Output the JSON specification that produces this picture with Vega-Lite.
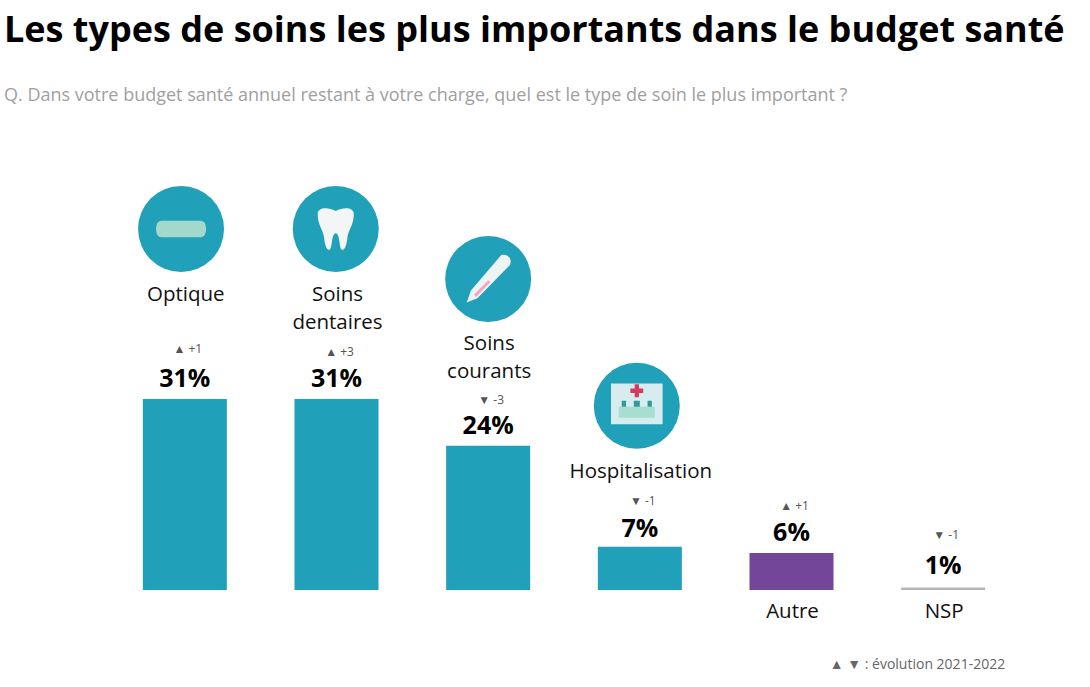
{
"$schema":"https://vega.github.io/schema/vega-lite/v6.json",
"width":1090,"height":567,
"autosize":{"type":"none"},
"padding":{"left":0,"top":120,"right":0,"bottom":0},
"background":"white",
"config":{"view":{"stroke":null},"font":"Open Sans"},
"title":{"text":"Les types de soins les plus importants dans le budget santé","subtitle":"Q. Dans votre budget santé annuel restant à votre charge, quel est le type de soin le plus important ?","anchor":"start","frame":"group","dx":4,"offset":14,"font":"Open Sans","fontSize":36,"fontWeight":"bold","color":"#000000","subtitleFont":"Open Sans","subtitleFontSize":18,"subtitleColor":"#a0a0a0","subtitlePadding":37},
"datasets":{
"glyphes":[
{"colonne":-0.025,"niveau":58.6,"partie":"disque"},
{"colonne":0.995,"niveau":58.6,"partie":"disque"},
{"colonne":2,"niveau":50.5,"partie":"disque"},
{"colonne":2.98,"niveau":29.9,"partie":"disque"},
{"colonne":-0.025,"niveau":58.6,"partie":"lunettes"},
{"colonne":0.995,"niveau":58.6,"partie":"dent"},
{"colonne":2,"niveau":50.5,"partie":"thermometre"},
{"colonne":2,"niveau":50.5,"partie":"repere"},
{"colonne":2.98,"niveau":29.9,"partie":"batiment"},
{"colonne":2.98,"niveau":29.9,"partie":"base"},
{"colonne":2.98,"niveau":29.9,"partie":"croix"},
{"colonne":2.98,"niveau":29.9,"partie":"fenetres"}
]},
"data":{"values":[
{"categorie":"Optique","valeur":31,"barre":31,"libelle":"Optique","evolution":"▲ +1","pct":"31%","niveau_libelle":46.9,"niveau_pct":33,"niveau_evol":39.1},
{"categorie":"Soins dentaires","valeur":31,"barre":31,"libelle":"Soins\ndentaires","evolution":"▲ +3","pct":"31%","niveau_libelle":46.9,"niveau_pct":33,"niveau_evol":38.6},
{"categorie":"Soins courants","valeur":24,"barre":23.4,"libelle":"Soins\ncourants","evolution":"▼ -3","pct":"24%","niveau_libelle":39,"niveau_pct":25.3,"niveau_evol":30.8},
{"categorie":"Hospitalisation","valeur":7,"barre":7,"libelle":"Hospitalisation","evolution":"▼ -1","pct":"7%","niveau_libelle":18.2,"niveau_pct":8.6,"niveau_evol":14.4},
{"categorie":"Autre","valeur":6,"barre":6,"libelle":"Autre","evolution":"▲ +1","pct":"6%","niveau_libelle":-4.5,"niveau_pct":8,"niveau_evol":13.6},
{"categorie":"NSP","valeur":1,"barre":0.4,"libelle":"NSP","evolution":"▼ -1","pct":"1%","niveau_libelle":-4.5,"niveau_pct":2.6,"niveau_evol":8.9}
]},
"encoding":{
"x":{"field":"categorie","type":"nominal","axis":null,"sort":null,"scale":{"domain":["Optique","Soins dentaires","Soins courants","Hospitalisation","Autre","NSP"],"range":[109,1019],"paddingInner":0.446,"paddingOuter":0.223}}
},
"layer":[
{"mark":{"type":"bar"},
 "encoding":{
 "y":{"field":"barre","type":"quantitative","axis":null,"scale":{"domain":[-15.75,76.3],"nice":false,"zero":false}},
 "color":{"field":"categorie","type":"nominal","legend":null,"scale":{"domain":["Optique","Soins dentaires","Soins courants","Hospitalisation","Autre","NSP"],"range":["#21a1b9","#21a1b9","#21a1b9","#21a1b9","#74469a","#b5b5b5"]}}}},
{"data":{"name":"glyphes"},
 "mark":{"type":"point","filled":true,"size":7396,"opacity":1,"strokeWidth":0},
 "encoding":{
 "x":{"field":"colonne","type":"quantitative","axis":null,"scale":{"domain":[-0.5,5.5],"range":[109,1019],"nice":false,"zero":false}},
 "y":{"field":"niveau","type":"quantitative"},
 "shape":{"field":"partie","type":"nominal","legend":null,"sort":null,"scale":{"domain":["disque","lunettes","dent","thermometre","repere","batiment","base","croix","fenetres"],"range":["circle",
 "M-0.45,-0.19 L0.45,-0.19 C0.55,-0.19 0.58,-0.1 0.58,0 C0.58,0.1 0.55,0.19 0.45,0.19 L-0.45,0.19 C-0.55,0.19 -0.58,0.1 -0.58,0 C-0.58,-0.1 -0.55,-0.19 -0.45,-0.19 Z",
 "M-0.42,-0.35 C-0.42,-0.5 -0.2,-0.52 0,-0.42 C0.2,-0.52 0.42,-0.5 0.42,-0.35 C0.42,-0.1 0.3,0 0.27,0.2 C0.25,0.4 0.2,0.5 0.14,0.48 C0.08,0.45 0.1,0.1 0,0.1 C-0.1,0.1 -0.08,0.45 -0.14,0.48 C-0.2,0.5 -0.25,0.4 -0.27,0.2 C-0.3,0 -0.42,-0.1 -0.42,-0.35 Z",
 "M0.3,-0.55 C0.45,-0.6 0.58,-0.45 0.5,-0.32 L-0.25,0.45 L-0.5,0.55 L-0.4,0.27 Z",
 "M-0.33,0.37 L0,0.03 L0.05,0.08 L-0.28,0.42 Z",
 "M-0.6,-0.52 L0.6,-0.52 L0.6,0.43 L-0.6,0.43 Z",
 "M-0.42,0.02 L0.42,0.02 L0.42,0.28 L-0.42,0.28 Z",
 "M-0.05,-0.5 L0.05,-0.5 L0.05,-0.4 L0.15,-0.4 L0.15,-0.3 L0.05,-0.3 L0.05,-0.2 L-0.05,-0.2 L-0.05,-0.3 L-0.15,-0.3 L-0.15,-0.4 L-0.05,-0.4 Z",
 "M-0.35,-0.12 L-0.25,-0.12 L-0.25,0.02 L-0.35,0.02 Z M-0.07,-0.12 L0.07,-0.12 L0.07,0.02 L-0.07,0.02 Z M0.25,-0.12 L0.35,-0.12 L0.35,0.02 L0.25,0.02 Z"]}},
 "fill":{"field":"partie","type":"nominal","legend":null,"sort":null,"scale":{"domain":["disque","lunettes","dent","thermometre","repere","batiment","base","croix","fenetres"],"range":["#21a1b9","#a3d9cb","#f4f6f6","#eef3f3","#f2a6c6","#d6ecee","#a6dfd0","#d63a5e","#2f9a9a"]}}}},
{"mark":{"type":"text","font":"Open Sans","fontSize":20.5,"color":"#111111","align":"center","baseline":"alphabetic","lineBreak":"\n","lineHeight":28,"dx":1},
 "encoding":{
 "y":{"field":"niveau_libelle","type":"quantitative"},
 "text":{"field":"libelle"}}},
{"mark":{"type":"text","font":"Open Sans","fontSize":25,"fontWeight":"bold","color":"#000000","align":"center","baseline":"alphabetic"},
 "encoding":{
 "y":{"field":"niveau_pct","type":"quantitative"},
 "text":{"field":"pct"}}},
{"mark":{"type":"text","font":"Open Sans","fontSize":12,"color":"#555555","align":"center","baseline":"middle","dx":3},
 "encoding":{
 "y":{"field":"niveau_evol","type":"quantitative"},
 "text":{"field":"evolution"}}},
{"data":{"values":[{"categorie":"NSP","note":"▲ ▼ : évolution 2021-2022","niveau":-12.2}]},
 "mark":{"type":"text","font":"Open Sans","fontSize":14,"color":"#666666","align":"right","baseline":"middle","dx":62},
 "encoding":{
 "y":{"field":"niveau","type":"quantitative"},
 "text":{"field":"note"}}}
],
"resolve":{"scale":{"x":"independent"}}
}
